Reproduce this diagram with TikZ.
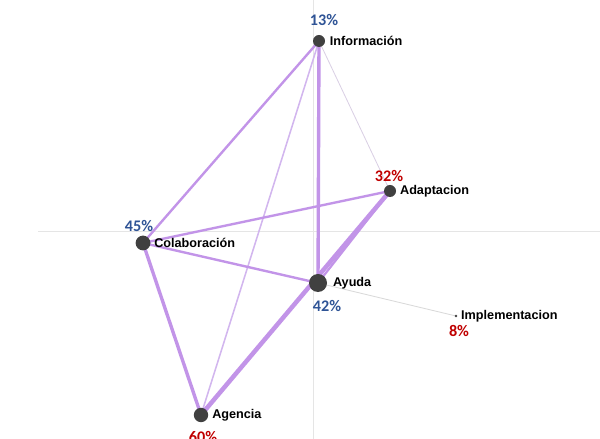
\documentclass[tikz,border=0pt]{standalone}
\usepackage{fontspec}
\setmainfont{Liberation Sans}
\newfontfamily\pctfont{Carlito}
\usetikzlibrary{positioning}
\definecolor{lila}{RGB}{194,148,232}
\definecolor{lilapale}{RGB}{210,182,238}
\definecolor{lilagrey}{RGB}{218,208,228}
\definecolor{dotgrey}{RGB}{64,64,64}
\definecolor{pctblue}{RGB}{47,84,150}
\definecolor{pctred}{RGB}{192,0,0}
\tikzset{
  dot/.style={draw=none, fill=dotgrey, circle, inner sep=0pt},
  lbl/.style={font=\bfseries\fontsize{9}{10}\selectfont, inner sep=0pt, anchor=west},
  pctb/.style={font=\pctfont\bfseries\fontsize{11.5}{12}\selectfont, text=pctblue, inner sep=0pt},
  pctr/.style={font=\pctfont\bfseries\fontsize{11.5}{12}\selectfont, text=pctred, inner sep=0pt},
  axis/.style={draw=black!10, line width=0.5pt}
}
\begin{document}
\begin{tikzpicture}[x=0.025cm, y=-0.025cm]
      \useasboundingbox (0,0) rectangle (600,439);
      % axes
      \draw[axis] (38,231) -- (600,231);
      \draw[axis] (313,0) -- (313,439);
      % nodes
      \coordinate (I) at (319,41);
      \coordinate (D) at (390,191);
      \coordinate (C) at (143,243);
      \coordinate (A) at (318,283);
      \coordinate (P) at (456,316);
      \coordinate (G) at (201,415);
      % edges
      \draw[lilagrey, line width=0.6pt] (I) to (D);
      \draw[black!15, line width=0.6pt] (A) to (P);
      \draw[lilapale, line width=1.1pt] (I) to (G);
      \draw[lila, line width=1.7pt] (I) to (C);
      \draw[lila, line width=1.7pt] (C) to (D);
      \draw[lila, line width=1.7pt] (C) to (A);
      \draw[lila, line width=2.4pt] (I) to (A);
      \draw[lila, line width=2.4pt] (C) to (G);
      \draw[lila, line width=1.6pt] (A) to (D);
      \draw[lila, line width=3.2pt] (G) to (D);
      % dots
      \node (dI) at (I) [dot, minimum size=0.3cm] {};
      \node (dD) at (D) [dot, minimum size=0.3cm] {};
      \node (dC) at (C) [dot, minimum size=0.37cm] {};
      \node (dA) at (A) [dot, minimum size=0.45cm] {};
      \node (dP) at (P) [dot, minimum size=0.07cm] {};
      \node (dG) at (G) [dot, minimum size=0.36cm] {};
      % names
      \node[lbl, right=7.6pt of I] (nI) {Información};
      \node[lbl, right=7pt of D] (nD) {Adaptacion};
      \node[lbl, right=7.8pt of C] (nC) {Colaboración};
      \node[lbl, right=10.5pt of A] (nA) {Ayuda};
      \node[lbl, right=3.5pt of P] (nP) {Implementacion};
      \node[lbl, right=7.8pt of G] (nG) {Agencia};
      % percentages
      \node[pctb] (pI) at (324,20)  {13\%};
      \node[pctr] (pD) at (389,176) {32\%};
      \node[pctb] (pC) at (139,226) {45\%};
      \node[pctb] (pA) at (327,306) {42\%};
      \node[pctr] (pP) at (459,331) {8\%};
      \node[pctr] (pG) at (203,437) {60\%};
\end{tikzpicture}
\end{document}
